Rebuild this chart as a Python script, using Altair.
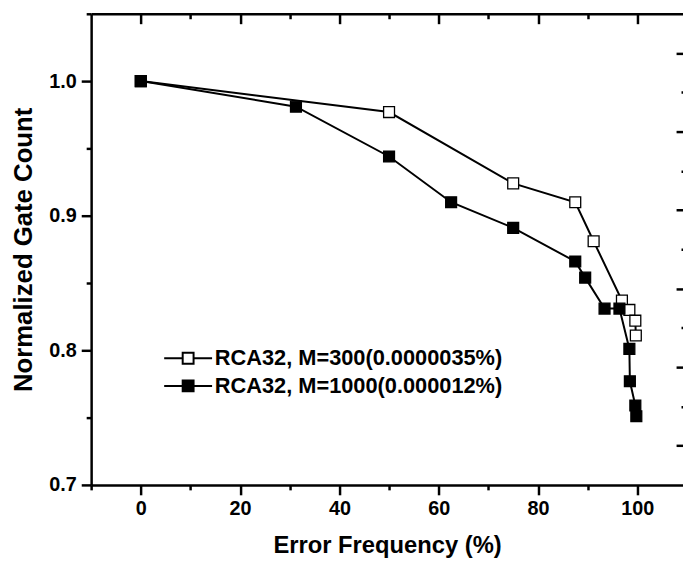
import altair as alt
import pandas as pd

# Series 1: RCA32, M=300 (open squares)
s1_name = "RCA32, M=300(0.0000035%)"
s1_x = [0, 50, 75, 87.5, 91.2, 96.9, 98.4, 99.6, 99.7]
s1_y = [1.0, 0.977, 0.924, 0.910, 0.881, 0.837, 0.830, 0.822, 0.811]

# Series 2: RCA32, M=1000 (filled squares)
s2_name = "RCA32, M=1000(0.000012%)"
s2_x = [0, 31.25, 50, 62.5, 75, 87.5, 89.5, 93.4, 96.4, 98.4, 98.5, 99.6, 99.8]
s2_y = [1.0, 0.981, 0.944, 0.910, 0.891, 0.866, 0.854, 0.831, 0.831, 0.801, 0.777, 0.759, 0.751]

x_ticks = [-10, 0, 10, 20, 30, 40, 50, 60, 70, 80, 90, 100]
top_ticks = [0, 10, 20, 30, 40, 50, 60, 70, 80, 90, 100]
y_ticks = [0.7, 0.75, 0.8, 0.85, 0.9, 0.95, 1.0, 1.05]
right_ticks = [1, 2, 3, 4, 5, 6, 7, 8, 9, 10, 11]

rows = []
for name, xs, ys in [(s1_name, s1_x, s1_y), (s2_name, s2_x, s2_y)]:
    for i, (xv, yv) in enumerate(zip(xs, ys)):
        rows.append({"series": name, "x": xv, "y": yv, "idx": i})
df = pd.DataFrame(rows)
df_right = pd.DataFrame({"r": [0, 12]})

W, H = 598, 476
FONT = "Liberation Sans"

xscale = alt.Scale(domain=[-10, 109.2], nice=False, zero=False)
yscale = alt.Scale(domain=[0.7, 1.05], nice=False, zero=False)

x_main_axis = alt.Axis(
    orient="bottom", values=x_ticks, title="Error Frequency (%)",
    labelExpr="datum.value % 20 === 0 ? datum.label : ''",
    tickSize={"condition": {"test": "datum.value % 20 === 0", "value": 10}, "value": 5},
    labelPadding=4, titlePadding=15, grid=False,
    labelFontSize=20, titleFontSize=24,
)
y_main_axis = alt.Axis(
    orient="left", values=y_ticks, title="Normalized Gate Count",
    labelExpr="round(datum.value*100) % 10 === 0 ? format(datum.value, '.1f') : ''",
    tickSize={"condition": {"test": "round(datum.value*100) % 10 === 0", "value": 10}, "value": 5},
    labelPadding=5, titlePadding=12, grid=False,
    labelFontSize=20, titleFontSize=26,
)
x_top_axis = alt.Axis(
    orient="bottom", offset=-H, values=top_ticks, title=None, labels=False,
    tickSize={"condition": {"test": "datum.value % 20 === 0", "value": 10}, "value": 5},
    grid=False,
)
right_axis = alt.Axis(
    orient="left", offset=-W, values=right_ticks, title=None, labels=False,
    domain=False, grid=False,
    tickSize={"condition": {"test": "datum.value % 2 === 1", "value": 7}, "value": 2},
)

lines = alt.Chart(df).mark_line(color="black", strokeWidth=2).encode(
    x=alt.X("x:Q", scale=xscale, axis=x_main_axis),
    y=alt.Y("y:Q", scale=yscale, axis=y_main_axis),
    detail="series:N",
    order="idx:Q",
)

points = alt.Chart(df).mark_point(
    shape="square", filled=True, size=121, stroke="black", strokeWidth=1.3, opacity=1
).encode(
    x=alt.X("x:Q", scale=xscale, axis=x_top_axis),
    y=alt.Y("y:Q", scale=yscale, axis=None),
    fill=alt.Fill(
        "series:N",
        scale=alt.Scale(domain=[s1_name, s2_name], range=["white", "black"]),
        legend=alt.Legend(
            title=None, orient="none", legendX=87, legendY=337,
            symbolType="M-4.4,0H-1M1,0H4.4M-1,-1H1V1H-1Z",
            symbolSize=121, symbolStrokeColor="black", symbolStrokeWidth=2,
            labelFont=FONT, labelFontSize=22, labelFontWeight="bold",
            labelColor="black", labelOffset=16, rowPadding=6, padding=0,
            labelLimit=500,
        ),
    ),
)

right = alt.Chart(df_right).mark_point(opacity=0).encode(
    y=alt.Y("r:Q", scale=alt.Scale(domain=[0, 12], nice=False, zero=False), axis=right_axis),
)

chart = (
    alt.layer(lines, points, right)
    .resolve_scale(y="independent")
    .resolve_axis(x="independent", y="independent")
    .properties(
        width=W, height=H,
        autosize=alt.AutoSizeParams(type="none"),
        padding={"left": 84, "top": 3, "right": 0, "bottom": 72},
    )
    .configure_view(stroke=None)
    .configure_axis(
        domainColor="black", domainWidth=2.5, tickColor="black", tickWidth=2.5,
        labelFont=FONT, labelFontWeight="bold", labelColor="black",
        titleFont=FONT, titleFontWeight="bold", titleColor="black",
    )
)

chart.save("out.html", embed_options={"renderer": "svg", "actions": False})
